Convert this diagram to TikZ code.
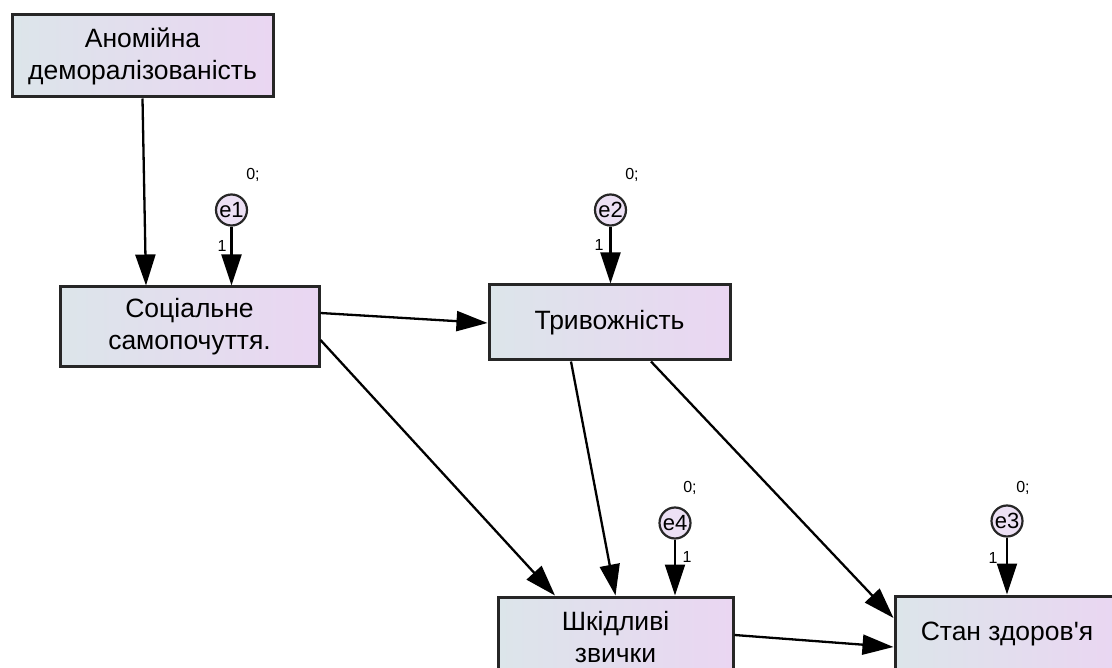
\documentclass[tikz,border=0pt]{standalone}
\usepackage{fontspec}
\setmainfont{Liberation Sans}[Ligatures=TeXOff]
\usetikzlibrary{arrows.meta}
\definecolor{gl}{HTML}{DCE5EA}
\definecolor{gr}{HTML}{EAD6F2}
\definecolor{cf}{HTML}{ECE0F4}
\definecolor{bd}{HTML}{262626}
\begin{document}
\begin{tikzpicture}[x=1pt,y=-1pt,
  box/.style={draw=bd,line width=3pt,left color=gl,right color=gr,align=center,
    font=\fontsize{26.5}{32}\selectfont,inner sep=0pt},
  err/.style={circle,draw=bd,line width=2.2pt,fill=cf,minimum size=31pt,inner sep=0pt,
    font=\fontsize{22}{24}\selectfont},
  lab/.style={font=\fontsize{16}{18}\selectfont,inner sep=0pt},
  conn/.style={line width=2.3pt,-{Triangle[length=31pt,width=20pt]}}]
\useasboundingbox (0,0) rectangle (1112,668);
\clip (0,0) rectangle (1112,668);
\node[box,minimum width=261pt,minimum height=82pt] (A) at (142.5,56) {Аномійна\\деморалізованість};
\node[box,minimum width=259pt,minimum height=80pt] (S) at (189.5,327) {Соціальне\\самопочуття.};
\node[box,minimum width=241pt,minimum height=75pt] (T) at (609.5,322.5) {Тривожність};
\node[box,minimum width=235pt,minimum height=80pt] (Sh) at (615.5,637) {Шкідливі\\звички};
\node[box,minimum width=224pt,minimum height=76pt] (St) at (1007,634) {Стан здоров'я};
\node[err] (e1) at (231.5,210) {e1};
\node[err] (e2) at (610.5,210) {e2};
\node[err] (e4) at (675,523) {e4};
\node[err] (e3) at (1007,521) {e3};
\node[lab] (z1) at (253,175) {0;};
\node[lab] (z2) at (632,175) {0;};
\node[lab] (z4) at (690,488) {0;};
\node[lab] (z3) at (1023,488) {0;};
\node[lab] (o1) at (222,246) {1};
\node[lab] (o2) at (599,245) {1};
\node[lab] (o4) at (687,557) {1};
\node[lab] (o3) at (993,558) {1};
\draw[conn] (A.south) -- ([xshift=-43.5pt]S.north);
\draw[conn] (e1.south) -- (e1.south |- S.north);
\draw[conn] (e2.south) -- (e2.south |- T.north);
\draw[conn] (e4.south) -- (e4.south |- Sh.north);
\draw[conn] (e3.south) -- (e3.south |- St.north);
\draw[conn] ([yshift=14pt]S.east) -- ([yshift=-0.5pt]T.west);
\draw[conn] ([yshift=-13pt]S.east) -- ([xshift=-60.5pt]Sh.north);
\draw[conn] ([xshift=-38.5pt]T.south) -- (Sh.north);
\draw[conn] ([xshift=41.5pt]T.south) -- ([yshift=16pt]St.west);
\draw[conn] ([yshift=2pt]Sh.east) -- ([yshift=-13pt]St.west);
\end{tikzpicture}
\end{document}
